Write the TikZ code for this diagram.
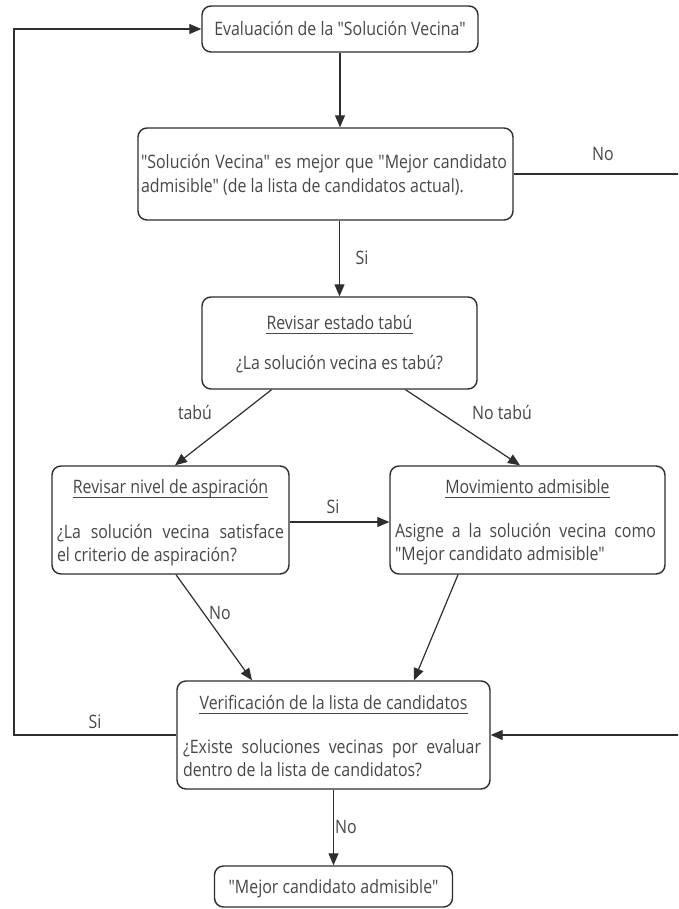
\documentclass[tikz,border=0pt]{standalone}
\usepackage{fontspec}
% diagram face: plain Open Sans, narrowed, no TeX quote mapping
\newfontfamily\diag{Open Sans}[FakeStretch=0.86]
\usetikzlibrary{arrows.meta}
\definecolor{ink}{HTML}{2E2E2E}
\definecolor{txt}{HTML}{474747}
\begin{document}
\begin{tikzpicture}[x=1pt,y=-1pt,
  box/.style={draw=ink, line width=1.4pt, rounded corners=9pt, inner sep=0pt, fill=white},
  lbl/.style={text=txt, font=\diag\fontsize{18.5}{23.5}\selectfont, inner sep=0pt},
  ttl/.style={lbl, anchor=base},
  body/.style={lbl, align=justify},
  arr/.style={draw=ink, line width=1.2pt, -{Triangle[length=12pt,width=10pt]}},
  uline/.style={draw=txt, line width=0.8pt}]

\clip (0,0) rectangle (678,909);
\fill[white] (0,0) rectangle (678,909);

% boxes
\node[box, minimum width=276pt, minimum height=46pt]  (b1) at (340,29) {};
\node[box, minimum width=375pt, minimum height=92pt]  (b2) at (325.5,174) {};
\node[box, minimum width=275pt, minimum height=92pt]  (b3) at (339.5,343) {};
\node[box, minimum width=237pt, minimum height=108pt] (b4) at (170.5,520) {};
\node[box, minimum width=275pt, minimum height=108pt] (b5) at (527.5,520) {};
\node[box, minimum width=313pt, minimum height=108pt] (b6) at (333.5,735) {};
\node[box, minimum width=238pt, minimum height=41pt]  (b7) at (333.5,886.5) {};

% box texts
\node[ttl] (t1) at (340,35.5) {Evaluación de la "Solución Vecina"};
\node[body, text width=366pt] (t2) at (324,175)
  {"Solución Vecina" es mejor que "Mejor candidato\linebreak admisible" (de la lista de candidatos actual).};

\node[ttl] (t3a) at (339.5,329.5) {Revisar estado tabú};
\node[ttl] (t3b) at (339.5,369.5) {¿La solución vecina es tabú?};

\node[ttl] (t4a) at (170.5,493.5) {Revisar nivel de aspiración};
\node[body, text width=227pt] (t4b) at (170.5,545)
  {¿La solución vecina satisface\linebreak el criterio de aspiración?};

\node[ttl] (t5a) at (527.5,493.5) {Movimiento admisible};
\node[body, text width=261pt] (t5b) at (525.5,544)
  {Asigne a la solución vecina como\linebreak "Mejor candidato admisible"};

\node[ttl] (t6a) at (333.5,709.5) {Verificación de la lista de candidatos};
\node[body, text width=298pt] (t6b) at (332,758)
  {¿Existe soluciones vecinas por evaluar\linebreak dentro de la lista de candidatos?};

\node[ttl] (t7) at (333.5,893.5) {"Mejor candidato admisible"};

% underlined titles
\foreach \t in {t3a,t4a,t5a,t6a}
  \draw[uline] ([yshift=-4pt]\t.base west) -- ([yshift=-4pt]\t.base east);

% connectors
\draw[arr] (b1.south) -- (b1.south |- b2.north);
\draw[arr] (b3.north |- b2.south) -- (b3.north);
\draw[arr] ([xshift=-68pt]b3.south) -- ([xshift=4.5pt]b4.north);
\draw[arr] ([xshift=66pt]b3.south) -- ([xshift=-7.5pt]b5.north);
\draw[arr] ([yshift=-2pt]b4.east) -- ([yshift=-2pt]b5.west);
\draw[arr] ([xshift=5.5pt]b4.south) -- ([xshift=-81.5pt]b6.north);
\draw[arr] ([xshift=-69.5pt]b5.south) -- ([xshift=80.5pt]b6.north);
\draw[arr] (b6.south) -- (b7.north);
\draw[arr] (b6.west) -- (14,735) |- (b1.west);
\draw[arr] (b2.east) -- (700,174) |- (b6.east);

% connector labels
\node[lbl] (lno1) at (603,154) {No};
\node[lbl] (lsi1) at (362,258) {Si};
\node[lbl] (ltab) at (195,413) {tabú};
\node[lbl] (lnot) at (502,413) {No tabú};
\node[lbl] (lsi2) at (333,507) {Si};
\node[lbl] (lno2) at (220,613) {No};
\node[lbl] (lsi3) at (95,722) {Si};
\node[lbl] (lno3) at (346,827) {No};
\end{tikzpicture}
\end{document}
